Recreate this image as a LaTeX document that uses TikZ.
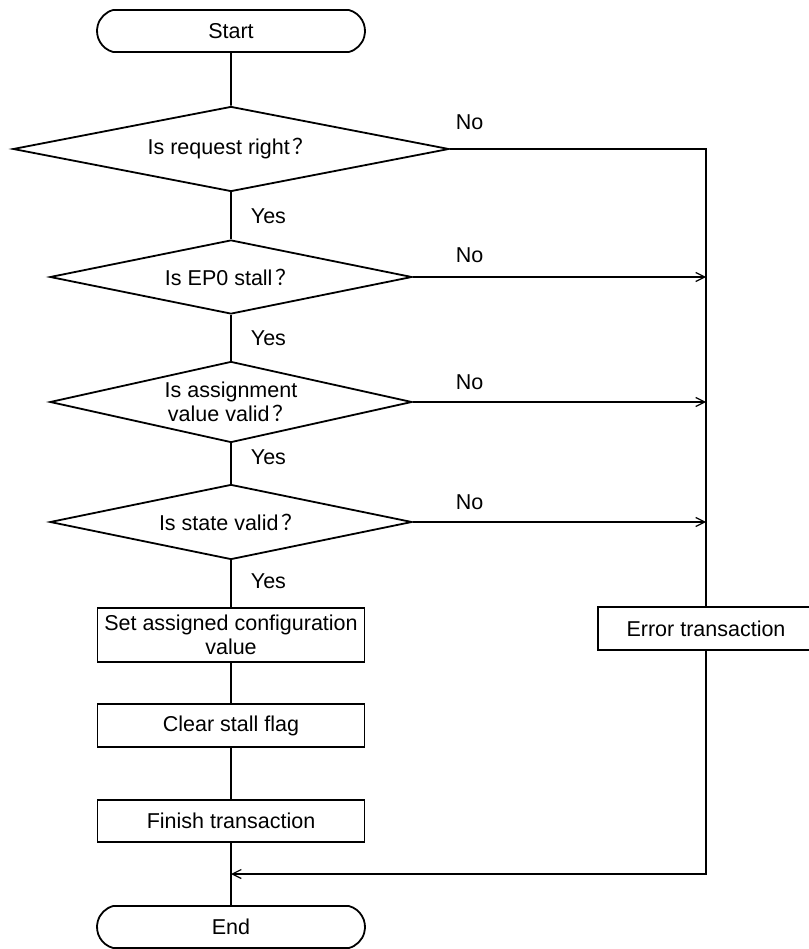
\documentclass[tikz,border=0pt]{standalone}
\usepackage{fontspec}
\setmainfont{Liberation Sans}
\newfontfamily\cjkfont{Noto Sans CJK SC}
\usetikzlibrary{
	arrows.meta,
	shapes.geometric,
	shapes.misc
}
\newcommand{\fwq}{\kern3pt{\cjkfont ？}}

\begin{document}
\begin{tikzpicture}[x=1pt, y=-1pt, line width=1.8pt,
		font=\fontsize{21.5}{23.5}\selectfont,
		terminal/.style={draw, rounded rectangle, rounded rectangle arc length=150, minimum width=268pt, minimum height=42pt, inner sep=0pt},
		decision/.style={draw, diamond, aspect=4.5, inner sep=0pt, align=center},
		process/.style={draw, rectangle, minimum width=267pt, inner sep=0pt, align=center},
		flow/.style={-{Straight Barb[length=9pt, width=9pt, line width=1.2pt]}},
		answer/.style={anchor=west, inner sep=0pt}]
			\useasboundingbox (0,0) rectangle (808,949);
			\node[terminal] (start) at (231,31) {Start};
			\node[decision, minimum width=436pt, minimum height=85pt] (req) at (231,149) {Is request right\fwq};
			\node[decision, minimum width=362pt, minimum height=74pt] (stall) at (231,277) {Is EP0 stall\fwq};
			\node[decision, minimum width=362pt, minimum height=81pt] (assign) at (231,402) {Is assignment\\value valid\fwq};
			\node[decision, minimum width=362pt, minimum height=75pt] (state) at (231,522) {Is state valid\fwq};
			\node[process, minimum height=54pt] (setcfg) at (231,635) {Set assigned configuration\\value};
			\node[process, minimum height=43pt] (clear) at (231,725.5) {Clear stall flag};
			\node[process, minimum height=42pt] (finish) at (231,821) {Finish transaction};
			\node[terminal] (end) at (231,927) {End};
			\node[draw, minimum width=216pt, minimum height=43pt, inner sep=0pt] (err) at (706,628.5) {Error transaction};
			\coordinate (corner) at (706,149);
			\coordinate (join) at (231,874);

			\draw (start) -- (req);
			\draw (req) -- node[answer, xshift=19pt] (yes1) {Yes} (stall);
			\draw (stall) -- node[answer, xshift=19pt] (yes2) {Yes} (assign);
			\draw (assign) -- node[answer, xshift=19pt, pos=0.35] (yes3) {Yes} (state);
			\draw (state) -- node[answer, xshift=19pt, pos=0.45] (yes4) {Yes} (setcfg);
			\draw (setcfg) -- (clear);
			\draw (clear) -- (finish);
			\draw (finish) -- (end);

			\draw (req.east) -- (corner) -- (err.north);
			\draw[flow] (stall.east) -- (stall.east -| corner);
			\draw[flow] (assign.east) -- (assign.east -| corner);
			\draw[flow] (state.east) -- (state.east -| corner);
			\draw[flow] (err.south) |- (join);

			\node[answer] (no1) at (455,122) {No};
			\node[answer] (no2) at (455,255) {No};
			\node[answer] (no3) at (455,382) {No};
			\node[answer] (no4) at (455,502) {No};
		\end{tikzpicture}
\end{document}
